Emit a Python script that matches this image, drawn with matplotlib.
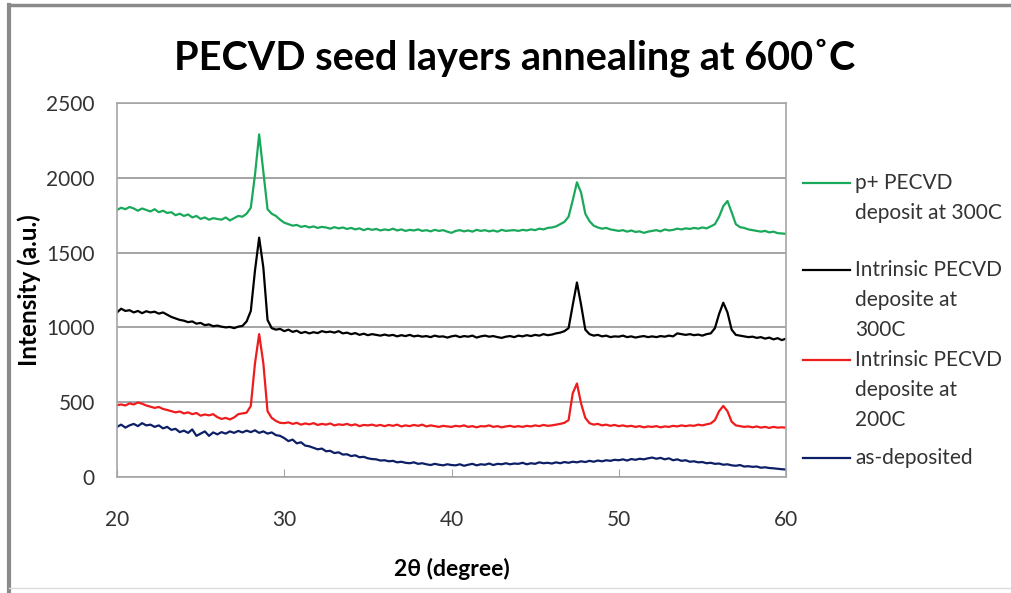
import matplotlib
matplotlib.use("Agg")
import matplotlib.pyplot as plt
import numpy as np
from matplotlib.lines import Line2D

plt.rcParams['font.family'] = ['Lato', 'DejaVu Sans']

# 2-theta grid, 0.25 degree steps from 20 to 60
two_theta = np.arange(20.0, 60.001, 0.25)

# p+ PECVD deposit at 300C
p_plus_300 = [
    1785, 1800, 1790, 1805, 1795, 1780, 1795, 1785,
    1775, 1790, 1770, 1780, 1765, 1770, 1750, 1760,
    1745, 1755, 1735, 1745, 1725, 1735, 1720, 1730,
    1725, 1720, 1735, 1715, 1730, 1745, 1740, 1760,
    1800, 2020, 2290, 2040, 1790, 1760, 1745, 1720,
    1700, 1690, 1680, 1685, 1672, 1678, 1668, 1675,
    1665, 1672, 1668, 1660, 1670, 1662, 1668, 1658,
    1665, 1655, 1662, 1650, 1660, 1652, 1658, 1648,
    1655, 1650, 1660, 1648, 1655, 1645, 1652, 1648,
    1655, 1645, 1650, 1642, 1652, 1645, 1650, 1640,
    1632, 1645, 1650, 1642, 1648, 1640, 1652, 1645,
    1650, 1642, 1648, 1640, 1652, 1645, 1648, 1650,
    1645, 1652, 1648, 1655, 1650, 1660, 1655, 1665,
    1668, 1675, 1690, 1705, 1740, 1850, 1970, 1900,
    1760, 1710, 1680, 1668, 1660, 1665, 1655, 1650,
    1645, 1650, 1640, 1648, 1638, 1642, 1632, 1640,
    1645, 1650, 1642, 1655, 1648, 1652, 1660, 1655,
    1662, 1658, 1665, 1660, 1668, 1662, 1675, 1690,
    1740, 1810, 1845, 1770, 1690, 1670, 1665, 1655,
    1650, 1645, 1640, 1645, 1635, 1640, 1630, 1628,
    1625,
]

# intrinsic PECVD deposite at 300C
intr_300 = [
    1100, 1125, 1110, 1115, 1100, 1110, 1095, 1108,
    1100, 1105, 1092, 1100, 1085, 1070, 1060, 1050,
    1045, 1035, 1040, 1025, 1030, 1015, 1020, 1008,
    1012, 1005, 1000, 1003, 995, 1005, 1010, 1040,
    1110, 1380, 1600, 1400, 1050, 995, 985, 990,
    975, 985, 970, 978, 962, 970, 960, 968,
    962, 975, 968, 972, 965, 975, 960, 965,
    955, 962, 950, 958, 948, 955, 950, 945,
    952, 945, 950, 940, 948, 942, 950, 940,
    945, 938, 942, 935, 945, 938, 940, 932,
    940, 945, 935, 942, 938, 945, 932, 940,
    945, 938, 942, 935, 930, 938, 942, 935,
    945, 940, 948, 942, 950, 945, 955, 948,
    952, 960, 965, 975, 995, 1150, 1300, 1150,
    985, 955, 945, 950, 940, 945, 935, 940,
    938, 945, 935, 940, 932, 938, 942, 935,
    940, 935, 942, 938, 945, 940, 960, 955,
    950, 955, 948, 952, 945, 955, 960, 995,
    1090, 1165, 1100, 985, 950, 945, 940, 935,
    938, 930, 935, 925, 932, 920, 928, 915,
    925,
]

# intrinsic PECVD deposite at 200C
intr_200 = [
    480, 485, 478, 492, 485, 498, 490, 478,
    470, 462, 468, 455, 448, 440, 432, 438,
    425, 432, 420, 428, 410, 418, 412, 420,
    400, 388, 395, 385, 398, 420, 425, 430,
    475, 760, 955, 760, 440, 395, 375, 362,
    360, 365, 355, 362, 350, 358, 352, 360,
    348, 355, 350, 358, 345, 352, 348, 355,
    345, 352, 340, 348, 345, 350, 342, 348,
    340, 348, 342, 350, 338, 345, 340, 348,
    342, 350, 338, 345, 340, 335, 342, 338,
    335, 342, 338, 345, 335, 340, 332, 340,
    338, 345, 335, 340, 332, 338, 342, 335,
    340, 335, 342, 338, 345, 340, 348, 342,
    345, 350, 355, 362, 380, 560, 625, 490,
    395, 360, 350, 355, 345, 350, 342, 348,
    340, 345, 338, 342, 335, 340, 332, 338,
    335, 340, 332, 338, 335, 342, 338, 345,
    340, 345, 342, 350, 345, 352, 358, 380,
    440, 475, 440, 370, 345, 340, 335, 338,
    332, 338, 330, 335, 328, 335, 330, 332,
    330,
]

# as-deposited
as_dep = [
    335, 350, 330, 345, 355, 340, 360, 345,
    350, 335, 345, 325, 335, 315, 322, 300,
    310, 295, 318, 275, 290, 305, 275, 298,
    285, 300, 290, 305, 295, 308, 298, 310,
    300, 312, 295, 305, 290, 298, 280, 275,
    260, 240, 250, 225, 232, 210, 205, 195,
    185, 190, 172, 175, 160, 165, 150, 152,
    140, 145, 132, 135, 125, 120, 118, 110,
    112, 105, 108, 98, 102, 95, 92, 98,
    88, 92, 85, 80, 88, 82, 78, 85,
    80, 78, 85, 75, 82, 88, 78, 85,
    82, 90, 80, 88, 85, 92, 85, 90,
    88, 95, 85, 92, 88, 98, 92, 95,
    90, 98, 92, 100, 95, 102, 98, 105,
    100, 108, 102, 110, 105, 112, 108, 115,
    112, 118, 110, 120, 115, 122, 118, 125,
    130, 122, 128, 118, 125, 112, 118, 108,
    112, 102, 105, 98, 100, 92, 95, 88,
    90, 82, 85, 78, 75, 80, 70, 72,
    68, 70, 62, 65, 60, 58, 55, 52,
    50,
]

series = [
    (p_plus_300, '#1aa95a', ['p+ PECVD', 'deposit at 300C']),
    (intr_300, '#000000', ['Intrinsic PECVD', 'deposite at', '300C']),
    (intr_200, '#ee1c1c', ['Intrinsic PECVD', 'deposite at', '200C']),
    (as_dep, '#0d1f66', ['as-deposited']),
]

W, H = 1011, 593
fig = plt.figure(figsize=(W / 100, H / 100), dpi=100)
ax = fig.add_axes([117 / W, 1 - 477 / H, (786 - 117) / W, (477 - 103) / H])

for y, c, _ in series:
    ax.plot(two_theta, y, color=c, lw=1.6)

ax.set_xlim(20, 60)
ax.set_ylim(0, 2500)
ax.set_xticks([20, 30, 40, 50, 60])
ax.set_yticks([0, 500, 1000, 1500, 2000, 2500])
ax.yaxis.grid(True, color='#8c8c8c', lw=1.1)
ax.set_axisbelow(True)
for s in ax.spines.values():
    s.set_color('#a6a6a6')
    s.set_linewidth(1.2)
ax.tick_params(axis='x', direction='in', length=6, color='#a6a6a6',
               pad=24, labelsize=15, labelcolor='#333333')
ax.tick_params(axis='y', length=0, pad=16, labelsize=15, labelcolor='#333333')

ax.set_xlabel('2θ (degree)', fontsize=16.5, fontweight='bold', labelpad=20)
ax.set_ylabel('Intensity (a.u.)', fontsize=17.5, fontweight='bold', labelpad=4)

fig.text(515 / W, 1 - 58 / H, 'PECVD seed layers annealing at 600˚C',
         ha='center', va='center', fontsize=28.5, fontweight='bold')

# legend: handle beside the first line of each label
legend_y = [183, 270, 360, 458]
for (y, c, lines), ly in zip(series, legend_y):
    fig.add_artist(Line2D([803 / W, 850 / W], [1 - ly / H, 1 - ly / H],
                          color=c, lw=1.6))
    for i, t in enumerate(lines):
        fig.text(855 / W, 1 - (ly + 30 * i) / H, t, ha='left', va='center',
                 fontsize=15, color='#333333')

# frame around the chart area
fig.add_artist(Line2D([9 / W, 9 / W], [0, 1 - 5 / H], color='#8a8a8a', lw=3))
fig.add_artist(Line2D([9 / W, 1], [1 - 5 / H, 1 - 5 / H], color='#8a8a8a', lw=2.5))
fig.add_artist(Line2D([9 / W, 1], [1 - 588 / H, 1 - 588 / H], color='#dcdcdc', lw=1))

fig.savefig('out.png', dpi=100)
